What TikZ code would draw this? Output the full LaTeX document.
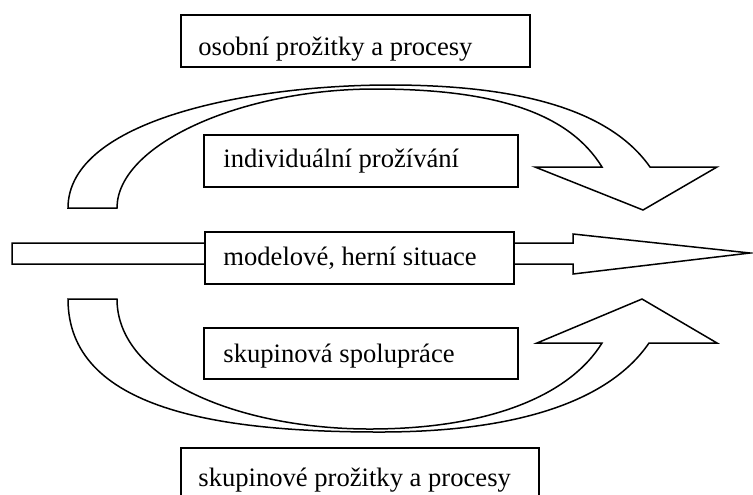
\documentclass[tikz,border=0pt]{standalone}
\usepackage{fontspec}
\setmainfont{Liberation Serif}
\begin{document}
\begin{tikzpicture}[x=0.5pt,y=-0.5pt,
  box/.style={draw, line width=1pt, fill=white, inner sep=0pt, anchor=north west},
  txt/.style={anchor=base west, inner sep=0pt, font=\fontsize{13.3}{16}\selectfont},
  arr/.style={draw, line width=0.75pt, fill=white, line join=miter}]
\useasboundingbox (0,0) rectangle (753,494);

% top curved arrow
\draw[arr] (68,208) .. controls (68,120) and (250,85) .. (390,85)
  .. controls (520,85) and (610,110) .. (650,167)
  -- (717,167) -- (643,210) -- (535,167) -- (602,167)
  .. controls (570,115) and (500,89) .. (375,89)
  .. controls (240,89) and (117,145) .. (117,208) -- cycle;

% bottom curved arrow
\draw[arr] (68,299) .. controls (68,410) and (220,432) .. (380,432)
  .. controls (520,432) and (610,400) .. (649,343)
  -- (717,343) -- (642,299) -- (537,343) -- (602,343)
  .. controls (570,395) and (490,429) .. (370,429)
  .. controls (240,429) and (117,380) .. (117,299) -- cycle;

% straight arrow
\draw[arr] (12,243) -- (573,243) -- (573,234) -- (750,253) -- (573,274) -- (573,264) -- (12,264) -- cycle;

% boxes
\node[box, minimum width=174.5pt, minimum height=26pt] (b1) at (180,14) {};
\node[box, minimum width=157pt, minimum height=26pt] (b2) at (203,134) {};
\node[box, minimum width=154.5pt, minimum height=26pt] (b3) at (204,231) {};
\node[box, minimum width=157pt, minimum height=25.5pt] (b4) at (203,327) {};
\node[box, minimum width=179pt, minimum height=27pt] (b5) at (180,447) {};

% texts
\node[txt] (t1) at (198,55) {osobní prožitky a procesy};
\node[txt] (t2) at (223,167) {individuální prožívání};
\node[txt] (t3) at (223,265) {modelové, herní situace};
\node[txt] (t4) at (223,362) {skupinová spolupráce};
\node[txt] (t5) at (198,486) {skupinové prožitky a procesy};
\end{tikzpicture}
\end{document}
